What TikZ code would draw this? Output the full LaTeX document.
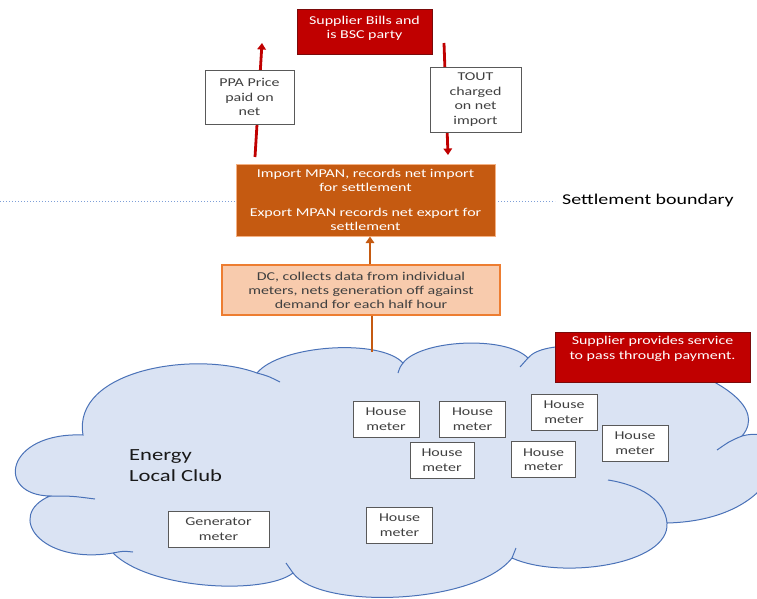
\documentclass[tikz,border=0pt]{standalone}
\usepackage{fontspec}
\setmainfont{Carlito}[FakeStretch=1.33]
\usetikzlibrary{arrows.meta}
\definecolor{bred}{HTML}{C00000}
\definecolor{redline}{HTML}{7A0A0A}
\definecolor{orfill}{HTML}{C55A11}
\definecolor{orborder}{HTML}{F4B183}
\definecolor{peach}{HTML}{F8CBAD}
\definecolor{peachline}{HTML}{ED7D31}
\definecolor{cloudfill}{HTML}{DAE3F3}
\definecolor{cloudline}{HTML}{4A72B8}
\definecolor{dotline}{HTML}{7E9FD8}
\definecolor{boxline}{HTML}{595959}
\definecolor{boxtext}{HTML}{404040}
\tikzset{
  wbox/.style={draw=boxline, fill=white, line width=0.9pt, align=center, inner sep=0pt,
    text=boxtext, font=\fontsize{12}{14.5}\selectfont},
  redbox/.style={draw=redline, fill=bred, line width=0.8pt, inner sep=0pt},
  redtext/.style={text=white, align=center, font=\fontsize{12}{14.5}\selectfont},
  redarrow/.style={draw=bred, line width=2.8pt, -{Triangle[width=8.5pt,length=6.5pt]}},
  orarrow/.style={draw=orfill, line width=2.8pt, -{Triangle[width=8.5pt,length=6.5pt]}},
  orline/.style={draw=orfill, line width=2.8pt},
  cloudshape/.style={draw=cloudline, fill=cloudfill, line width=1pt},
  crease/.style={draw=cloudline, line width=1pt},
  meter/.style={wbox, minimum width=66pt, minimum height=36pt},
  boundary/.style={draw=dotline, line width=1pt, dash pattern=on 1pt off 2pt},
}
\begin{document}
\begin{tikzpicture}[x=1pt,y=-1pt]
\useasboundingbox (0,0) rectangle (757,599);
\clip (0,0) rectangle (757,599);
\fill[white] (0,0) rectangle (757,599);

% settlement boundary
\draw[boundary] (0,201) -- (236,201);
\draw[boundary] (495,201) -- (555,201);
\node[anchor=west, font=\fontsize{15}{17}\selectfont, text=black, inner sep=0pt] (sbound) at (562,200) {Settlement boundary};

% cloud
\path[cloudshape] (83,435) .. controls (72,370) and (195,350) .. (257,373)
 .. controls (280,345) and (380,338) .. (403,363)
 .. controls (420,340) and (505,335) .. (528,358)
 .. controls (560,320) and (790,380) .. (742,436)
 .. controls (800,420) and (790,520) .. (667,523)
 .. controls (670,565) and (560,580) .. (512,558)
 .. controls (475,605) and (320,610) .. (293,573)
 .. controls (265,595) and (150,590) .. (113,553)
 .. controls (40,565) and (5,515) .. (50,496)
 .. controls (-5,495) and (5,432) .. (83,435) -- cycle;
\draw[crease] (257,373) .. controls (268,376) .. (280,382);
\draw[crease] (403,363) .. controls (400,367) .. (398,373);
\draw[crease] (528,358) .. controls (524,362) .. (520,367);
\draw[crease] (742,436) .. controls (730,441) .. (717,450);
\draw[crease] (608,480) .. controls (640,485) and (665,500) .. (667,523);
\draw[crease] (512,558) .. controls (514,553) .. (516,548);
\draw[crease] (293,573) .. controls (290,568) .. (286,563);
\draw[crease] (113,553) .. controls (123,551) .. (133,552);
\draw[crease] (50,496) .. controls (72,496) .. (95,499);

% top boxes
\node[redbox, minimum width=135pt, minimum height=45pt,
  label={[redtext, yshift=3pt]center:Supplier Bills and\\is BSC party}] (sb) at (364.5,31.5) {};

\node[fill=orfill, draw=orborder, line width=1pt, minimum width=259pt, minimum height=72pt,
  inner sep=0pt, align=center, text=white, font=\fontsize{12}{14}\selectfont] (mpan) at (365.5,200)
  {Import MPAN, records net import\\for settlement\\[11pt]Export MPAN records net export for\\settlement};

\node[fill=peach, draw=peachline, line width=1.3pt, minimum width=278pt, minimum height=50pt,
  inner sep=0pt, align=center, text=boxtext, font=\fontsize{12}{14}\selectfont] (dc) at (361,290)
  {DC, collects data from individual\\meters, nets generation off against\\demand for each half hour};

% arrows
\coordinate (ppaS) at (255,157);
\coordinate (ppaE) at (262,43);
\coordinate (toutS) at (444,43);
\coordinate (toutE) at (448,155);
\draw[redarrow] (ppaS) -- (ppaE);
\draw[redarrow] (toutS) -- (toutE);
\draw[orarrow] ([xshift=9pt]dc.north) -- ([xshift=9pt]dc.north |- mpan.south);
\coordinate (cloudtop) at (372,352);
\draw[orline] ([xshift=11pt]dc.south) -- (cloudtop);

\node[wbox, minimum width=89pt, minimum height=54pt] (ppa) at (249.5,97) {PPA Price\\paid on\\net};
\node[wbox, minimum width=91pt, minimum height=65pt] (tout) at (475.5,99.5) {TOUT\\charged\\on net\\import};

% supplier service box
\node[redbox, minimum width=195pt, minimum height=50pt,
  label={[redtext, yshift=8pt]center:Supplier provides service\\to pass through payment.}] (sps) at (652.5,357) {};

% club label
\node[anchor=west, align=left, inner sep=0pt, text=black!90, font=\fontsize{17}{21}\selectfont] (club) at (129,465.5) {Energy\\Local Club};

% meters
\node[meter] (h1) at (386,419) {House\\meter};
\node[meter] (h2) at (472.5,419) {House\\meter};
\node[meter] (h3) at (564,412) {House\\meter};
\node[meter] (h4) at (635,443) {House\\meter};
\node[meter, minimum width=64pt] (h5) at (442,460) {House\\meter};
\node[meter, minimum width=64pt] (h6) at (543.5,459.5) {House\\meter};
\node[meter] (h7) at (399.5,525) {House\\meter};
\node[meter, minimum width=101pt] (gen) at (218.5,529) {Generator\\meter};
\end{tikzpicture}
\end{document}
